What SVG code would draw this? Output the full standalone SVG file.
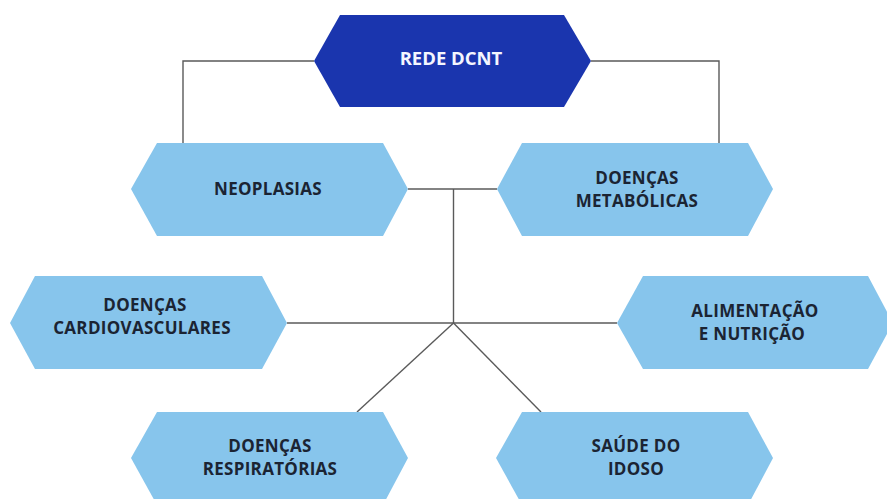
<svg xmlns="http://www.w3.org/2000/svg" width="887" height="499" viewBox="0 0 887 499">
<style>
.bg{fill:#ffffff}
.conn{fill:none;stroke:#5a5a5a;stroke-width:1.4}
.hex-main{fill:#1a35ae}
.hex{fill:#87c5ec}
.t{font-family:"Open Sans","Noto Sans","Liberation Sans",sans-serif;font-weight:700;text-anchor:middle}
.tm{fill:#f4f6ff;font-size:18.5px}
.tn{fill:#1b2433;font-size:17px;letter-spacing:0.3px}
</style>
<rect class="bg" x="0" y="0" width="887" height="499"/>
<g id="connectors">
<path class="conn" d="M314,61 H183 V143"/>
<path class="conn" d="M591,61 H719 V143"/>
<path class="conn" d="M408,189 H497"/>
<path class="conn" d="M453.5,189 V323"/>
<path class="conn" d="M287,323 H617"/>
<path class="conn" d="M453.5,323 L357,412"/>
<path class="conn" d="M453.5,323 L541,412"/>
</g>
<g id="rede-dcnt">
<polygon class="hex-main" points="314,61 340,15 564,15 591,61 564,107 340,107"/>
<text class="t tm" x="451" y="65">REDE DCNT</text>
</g>
<g id="neoplasias">
<polygon class="hex" points="131,189 157,143 383,143 408,189 383,236 157,236"/>
<text class="t tn" x="268" y="195">NEOPLASIAS</text>
</g>
<g id="doencas-metabolicas">
<polygon class="hex" points="497,189 522,143 748,143 773,189 748,236 522,236"/>
<text class="t tn" x="637" y="184">DOENÇAS</text>
<text class="t tn" x="637" y="207">METABÓLICAS</text>
</g>
<g id="doencas-cardiovasculares">
<polygon class="hex" points="10,323 35,276 262,276 287,323 262,369 35,369"/>
<text class="t tn" x="145" y="311">DOENÇAS</text>
<text class="t tn" x="142" y="334">CARDIOVASCULARES</text>
</g>
<g id="alimentacao-nutricao">
<polygon class="hex" points="617,323 643,276 868,276 893,323 868,369 643,369"/>
<text class="t tn" x="755" y="317">ALIMENTAÇÃO</text>
<text class="t tn" x="752" y="340">E NUTRIÇÃO</text>
</g>
<g id="doencas-respiratorias">
<polygon class="hex" points="131,458 157,412 383,412 408,458 383,505 157,505"/>
<text class="t tn" x="270" y="452">DOENÇAS</text>
<text class="t tn" x="270" y="475">RESPIRATÓRIAS</text>
</g>
<g id="saude-idoso">
<polygon class="hex" points="496,458 522,412 748,412 773,458 748,505 522,505"/>
<text class="t tn" x="636" y="452">SAÚDE DO</text>
<text class="t tn" x="636" y="475">IDOSO</text>
</g>
</svg>
